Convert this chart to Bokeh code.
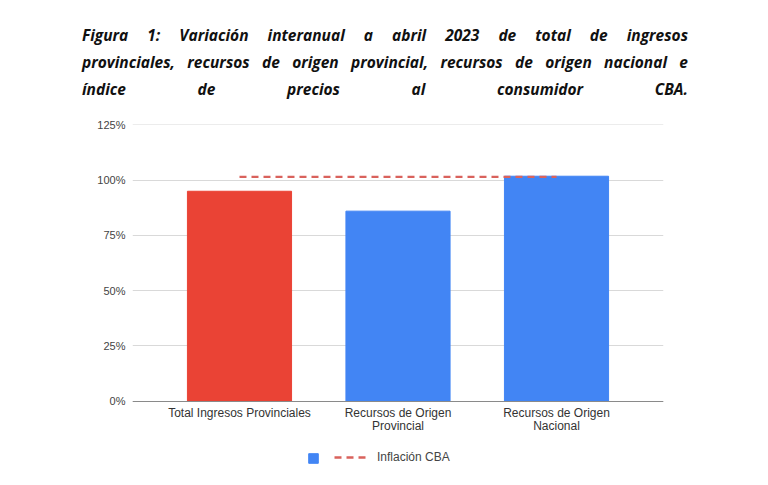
from bokeh.embed import file_html
from bokeh.resources import INLINE
from bokeh.layouts import column
from bokeh.models import (ColumnDataSource, Div, FixedTicker, Legend, LegendItem,
                          NumeralTickFormatter, Range1d)
from bokeh.plotting import figure

# Data
categorias = ["Total Ingresos Provinciales", "Recursos de Origen\nProvincial", "Recursos de Origen\nNacional"]
variacion = [0.95, 0.86, 1.018]
colores = ["#ea4335", "#4285f4", "#4285f4"]
inflacion_cba = 1.015
y_ticks = [0, 0.25, 0.5, 0.75, 1.0, 1.25]

titulo = [
    "Figura 1: Variación interanual a abril 2023 de total de ingresos",
    "provinciales, recursos de origen provincial, recursos de origen nacional e",
    "índice de precios al consumidor CBA.",
]

xs = [i + 1 for i in range(len(categorias))]
source = ColumnDataSource(dict(x=xs, top=variacion, color=colores))

# Title as justified html text
title_div = Div(
    text='<div style="margin-left:77px;width:606px;padding-top:17px;white-space:nowrap;'
         'font-family:\'Open Sans\';font-weight:bold;font-style:italic;font-size:15.5px;'
         'line-height:27px;color:#111;text-align:justify;text-align-last:justify;">'
         + "<br>".join(titulo) + "</div>",
    width=752, height=98)

# frame reaches below zero so the legend can sit inside it; x axis is pinned at 0
p = figure(width=752, height=367, output_backend="svg", toolbar_location=None,
           x_range=Range1d(xs[0] - 0.675, xs[-1] + 0.675),
           y_range=Range1d(-0.336, 1.252),
           min_border_left=132, min_border_right=89, min_border_top=16, min_border_bottom=0)
p.outline_line_color = None
p.background_fill_color = "white"
p.border_fill_color = "white"

bars = p.vbar(x="x", top="top", width=0.657, color="color", source=source)
linea = p.line(x=[xs[0], xs[-1]], y=[inflacion_cba, inflacion_cba], line_color="#d9625c",
               line_width=2.4, line_dash="7 5")

# axes
p.xaxis.fixed_location = 0
p.xaxis.ticker = FixedTicker(ticks=xs)
p.xaxis.major_label_overrides = {x: c for x, c in zip(xs, categorias)}
p.xaxis.major_tick_line_color = None
p.xaxis.major_tick_out = 0
p.xaxis.minor_tick_line_color = None
p.xaxis.axis_line_color = "#8a8a8a"
p.xaxis.major_label_text_font = "Liberation Sans"
p.xaxis.major_label_text_font_size = "12px"
p.xaxis.major_label_text_color = "#333333"
p.xaxis.major_label_text_line_height = 0.9
p.xaxis.major_label_standoff = 5

p.yaxis.ticker = FixedTicker(ticks=y_ticks)
p.yaxis.formatter = NumeralTickFormatter(format="0%")
p.yaxis.axis_line_color = None
p.yaxis.major_tick_line_color = None
p.yaxis.major_tick_out = 0
p.yaxis.minor_tick_line_color = None
p.yaxis.major_label_text_font = "Liberation Sans"
p.yaxis.major_label_text_font_size = "11px"
p.yaxis.major_label_text_color = "#444444"
p.yaxis.major_label_standoff = 7

p.xgrid.grid_line_color = None
p.ygrid.ticker = FixedTicker(ticks=y_ticks)
p.ygrid.grid_line_color = "#d9d9d9"

# legend: two pieces so the swatch and the dashed line keep their own widths
leg_box = Legend(items=[LegendItem(label=" ", renderers=[bars], index=1)],
                 location=(175, 11), glyph_width=12, glyph_height=12, label_height=12,
                 padding=0, margin=0, border_line_alpha=0, background_fill_alpha=0,
                 label_text_font_size="11px")
leg_line = Legend(items=[LegendItem(label="Inflación CBA", renderers=[linea])],
                  location=(202, 11), glyph_width=36, glyph_height=12, label_height=12,
                  label_standoff=7, padding=0, margin=0, border_line_alpha=0,
                  background_fill_alpha=0, label_text_font="Liberation Sans",
                  label_text_font_size="12px", label_text_color="#444444")
p.add_layout(leg_box)
p.add_layout(leg_line)

layout = column(title_div, p)
open("out.html", "w").write(file_html(layout, INLINE))
